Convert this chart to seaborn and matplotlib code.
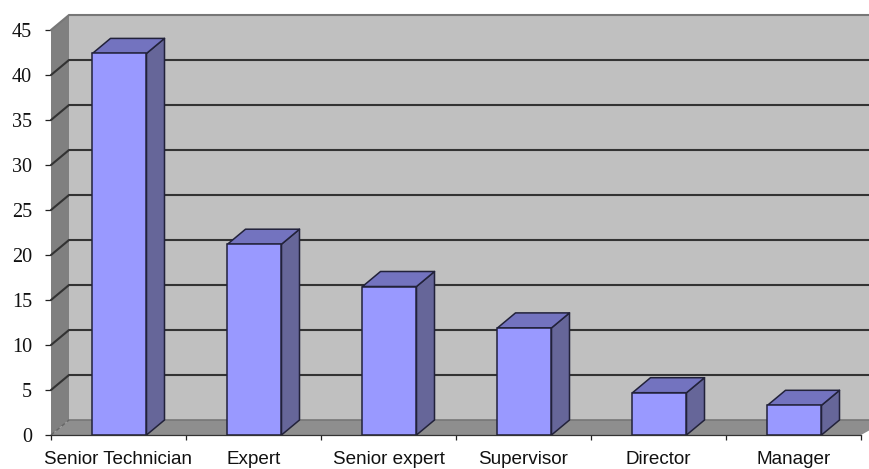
import matplotlib
matplotlib.use("Agg")
import matplotlib.pyplot as plt
import pandas as pd
import seaborn as sns
from matplotlib.patches import Polygon

categories = ["Senior Technician", "Expert", "Senior expert", "Supervisor", "Director", "Manager"]
counts = [42.4, 21.2, 16.5, 11.9, 4.7, 3.3]
y_ticks = [0, 5, 10, 15, 20, 25, 30, 35, 40, 45]

WALL = "#c0c0c0"
SIDE_WALL = "#808080"
FLOOR = "#8e8e8e"
FRONT = "#9999ff"
BAR_SIDE = "#666699"
BAR_TOP = "#7373bf"
EDGE = "#22223a"
GRID = "#333333"

sns.set_theme(style="white")
fig = plt.figure(figsize=(8.7, 4.69), dpi=100)
W, H = 870, 469
ax = fig.add_axes([51 / W, 1 - 435 / H, 810 / W, 405 / H])

df = pd.DataFrame({"role": categories, "count": counts})
sns.barplot(data=df, x="role", y="count", color=FRONT, saturation=1, width=0.4,
            edgecolor=EDGE, linewidth=1.1, ax=ax, zorder=5)
ax.set_xlim(-0.5, 5.5)
ax.set_ylim(0, 45)
ax.set_xlabel("")
ax.set_ylabel("")

# Oblique projection: depth of the 3D box, in data units
dx = 18 / 135
dy = 15 / 9
top = y_ticks[-1]
right = len(categories) - 0.5 + 0.2


def face(points, color, z, edge="none", lw=0):
    ax.add_patch(Polygon(points, closed=True, facecolor=color, edgecolor=edge,
                         linewidth=lw, zorder=z, clip_on=False, joinstyle="round"))


# Back wall, side wall and floor
face([(-0.5 + dx, dy), (right, dy), (right, top + dy), (-0.5 + dx, top + dy)], WALL, 1)
face([(-0.5, 0), (-0.5 + dx, dy), (-0.5 + dx, top + dy), (-0.5, top)], SIDE_WALL, 2)
face([(-0.5, 0), (-0.5 + dx, dy), (right, dy), (5.5, 0)], FLOOR, 2)

# Gridlines run along the back wall and fold down the side wall
for v in y_ticks[1:]:
    colour = "#777777" if v == top else GRID
    ax.plot([-0.5, -0.5 + dx, right], [v, v + dy, v + dy], color=colour, lw=1.5,
            zorder=3, clip_on=False, solid_joinstyle="miter")
ax.plot([-0.5 + dx, right], [dy, dy], color="#777777", lw=1.2, zorder=3, clip_on=False)
ax.plot([-0.5, -0.5 + dx], [0, dy], color="#666666", lw=1, ls=(0, (3, 2)), zorder=3, clip_on=False)

# Side and top faces of every bar, taken from the bars themselves
for bar in [p for p in ax.patches if p.get_zorder() == 5]:
    bar.set_x(bar.get_x() + 1 / 135)
    x0, x1 = bar.get_x(), bar.get_x() + bar.get_width()
    h = bar.get_height()
    face([(x1, 0), (x1 + dx, dy), (x1 + dx, h + dy), (x1, h)], BAR_SIDE, 4, EDGE, 1.1)
    face([(x0, h), (x0 + dx, h + dy), (x1 + dx, h + dy), (x1, h)], BAR_TOP, 4, EDGE, 1.1)

for side in ["top", "right", "left"]:
    ax.spines[side].set_visible(False)
ax.spines["bottom"].set_color("#333333")
ax.spines["bottom"].set_linewidth(0.9)
ax.spines["bottom"].set_zorder(6)

ax.set_yticks(y_ticks)
ax.set_yticklabels([str(v) for v in y_ticks], family="Liberation Serif", fontsize=14.5, color="#111111")
ax.tick_params(axis="y", left=True, length=4.5, width=0.9, color="#222222", pad=9)

# Ticks sit between categories, labels on the category centres
ax.set_xticks(range(len(categories)))
ax.set_xticklabels(categories, family="Liberation Sans", fontsize=13.6, color="#111111")
ax.tick_params(axis="x", which="major", bottom=False, pad=5.5)
ax.set_xticks([i - 0.5 for i in range(len(categories) + 1)], minor=True)
ax.tick_params(axis="x", which="minor", bottom=True, length=3.5, width=0.9, color="#222222")

fig.savefig("out.png", dpi=100, facecolor="white")
